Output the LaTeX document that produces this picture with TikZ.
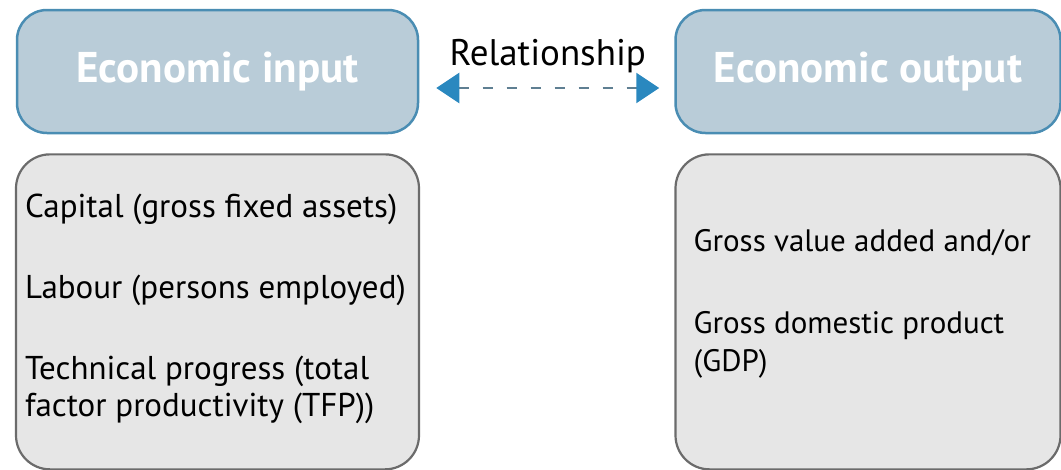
\documentclass[tikz,border=0pt]{standalone}
\usepackage{fontspec}
\setmainfont{PT Sans}
\usepackage{xcolor}
\usepackage{tikz}
\usetikzlibrary{positioning, arrows.meta}

\definecolor{headfill}{HTML}{B9CCD8}
\definecolor{headline}{HTML}{4A8DB3}
\definecolor{panelfill}{HTML}{E6E6E6}
\definecolor{panelline}{HTML}{6B6B6B}
\definecolor{tipblue}{HTML}{2A88BF}
\definecolor{dashgrey}{HTML}{5F7F92}

\begin{document}
\begin{tikzpicture}[x=1pt, y=-1pt, node distance=19pt,
  head/.style={draw=headline, line width=2.5pt, rectangle, rounded corners=30pt, fill=headfill,
    minimum height=123pt, text=white, font=\fontsize{43}{48}\selectfont\bfseries},
  panel/.style={draw=panelline, line width=2.2pt, rectangle, rounded corners=34pt, fill=panelfill,
    minimum height=315pt},
  itemtext/.style={align=left, inner sep=0pt, font=\fontsize{33}{37}\selectfont},
  rel/.style={dashgrey, line width=2.5pt, dash pattern=on 10pt off 14pt,
    {Triangle[length=23pt, width=30pt, fill=tipblue, color=tipblue]}-{Triangle[length=23pt, width=30pt, fill=tipblue, color=tipblue]}}]
\useasboundingbox (0,0) rectangle (1061,469);

\node[head, minimum width=401pt] (inhead) at (217.5,71.5) {Economic input};
\node[head, minimum width=385pt, right=255pt of inhead] (outhead) {Economic output};
\node[panel, minimum width=403pt, below=19pt of inhead] (inbox) {};
\node[panel, minimum width=385pt, below=19pt of outhead] (outbox) {};

\node[itemtext, anchor=west] (inlist) at ([xshift=10pt, yshift=3pt]inbox.west)
  {Capital (gross fixed assets)\\[44pt]
   Labour (persons employed)\\[44pt]
   Technical progress (total\\
   factor productivity (TFP))};
\node[itemtext, font=\fontsize{31}{38}\selectfont, anchor=west] (outlist) at ([xshift=19pt, yshift=8pt]outbox.west)
  {Gross value added and/or\\[44pt]
   Gross domestic product\\
   (GDP)};

\draw[rel] ([xshift=17pt, yshift=-16.5pt]inhead.east) -- node[above=11pt, black, font=\fontsize{37}{40}\selectfont] (rellabel) {Relationship} ([xshift=-15pt, yshift=-16.5pt]outhead.west);
\end{tikzpicture}
\end{document}
